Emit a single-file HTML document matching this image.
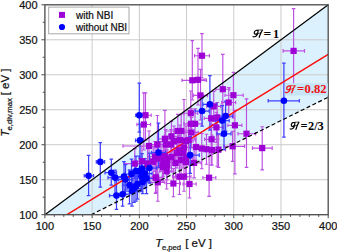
<!DOCTYPE html><html><head><meta charset="utf-8"><style>html,body{margin:0;padding:0;background:#fff;width:337px;height:252px;overflow:hidden}svg{display:block}text{font-family:"Liberation Sans",sans-serif}.tk text,text.tk{stroke:#111;stroke-width:0.22px}.ser text{font-family:"Liberation Serif",serif}</style></head><body>
<svg width="337" height="252" viewBox="0 0 337 252">
<polygon points="44.90,214.70 328.20,4.80 328.20,97.19 91.12,214.70" fill="#dbf1fd"/>
<line x1="92.12" y1="4.80" x2="92.12" y2="214.70" stroke="#cbcbcb" stroke-width="1"/>
<line x1="44.90" y1="179.72" x2="328.20" y2="179.72" stroke="#cbcbcb" stroke-width="1"/>
<line x1="139.33" y1="4.80" x2="139.33" y2="214.70" stroke="#cbcbcb" stroke-width="1"/>
<line x1="44.90" y1="144.73" x2="328.20" y2="144.73" stroke="#cbcbcb" stroke-width="1"/>
<line x1="186.55" y1="4.80" x2="186.55" y2="214.70" stroke="#cbcbcb" stroke-width="1"/>
<line x1="44.90" y1="109.75" x2="328.20" y2="109.75" stroke="#cbcbcb" stroke-width="1"/>
<line x1="233.77" y1="4.80" x2="233.77" y2="214.70" stroke="#cbcbcb" stroke-width="1"/>
<line x1="44.90" y1="74.77" x2="328.20" y2="74.77" stroke="#cbcbcb" stroke-width="1"/>
<line x1="280.98" y1="4.80" x2="280.98" y2="214.70" stroke="#cbcbcb" stroke-width="1"/>
<line x1="44.90" y1="39.78" x2="328.20" y2="39.78" stroke="#cbcbcb" stroke-width="1"/>
<path d="M283.1 50.9H304.5M293.6 8.6V89.0M283.1 49.1V52.7M304.5 49.1V52.7M291.8 8.6H295.4M291.8 89.0H295.4" stroke="#bd4fe3" stroke-width="1.15" fill="none"/><path d="M194.6 55.7H209.4M202.0 33.6V78.0M194.6 53.9V57.5M209.4 53.9V57.5M200.2 33.6H203.8M200.2 78.0H203.8" stroke="#bd4fe3" stroke-width="1.15" fill="none"/><path d="M182.0 80.3H206.5M192.3 40.6V100.0M182.0 78.5V82.1M206.5 78.5V82.1M190.5 40.6H194.1M190.5 100.0H194.1" stroke="#bd4fe3" stroke-width="1.15" fill="none"/><path d="M191.0 79.8H205.0M198.0 48.3V105.0M191.0 78.0V81.6M205.0 78.0V81.6M196.2 48.3H199.8M196.2 105.0H199.8" stroke="#bd4fe3" stroke-width="1.15" fill="none"/><path d="M193.5 95.4H207.5M200.5 69.4V120.0M193.5 93.6V97.2M207.5 93.6V97.2M198.7 69.4H202.3M198.7 120.0H202.3" stroke="#bd4fe3" stroke-width="1.15" fill="none"/><path d="M215.8 89.2H229.8M222.8 54.3V120.0M215.8 87.4V91.0M229.8 87.4V91.0M221.0 54.3H224.6M221.0 120.0H224.6" stroke="#bd4fe3" stroke-width="1.15" fill="none"/><path d="M225.0 95.2H243.2M233.4 72.4V118.0M225.0 93.4V97.0M243.2 93.4V97.0M231.6 72.4H235.2M231.6 118.0H235.2" stroke="#bd4fe3" stroke-width="1.15" fill="none"/><path d="M221.7 102.5H235.7M228.7 87.5V117.5M221.7 100.7V104.3M235.7 100.7V104.3M226.9 87.5H230.5M226.9 117.5H230.5" stroke="#bd4fe3" stroke-width="1.15" fill="none"/><path d="M140.0 115.2H151.2M145.5 92.9V140.0M140.0 113.4V117.0M151.2 113.4V117.0M143.7 92.9H147.3M143.7 140.0H147.3" stroke="#bd4fe3" stroke-width="1.15" fill="none"/><path d="M136.9 124.5H150.6M143.8 92.9V150.0M136.9 122.7V126.3M150.6 122.7V126.3M142.0 92.9H145.6M142.0 150.0H145.6" stroke="#bd4fe3" stroke-width="1.15" fill="none"/><path d="M183.8 113.2H197.8M190.8 91.0V128.2M183.8 111.4V115.0M197.8 111.4V115.0M189.0 91.0H192.6M189.0 128.2H192.6" stroke="#bd4fe3" stroke-width="1.15" fill="none"/><path d="M184.0 123.8H198.0M191.0 108.8V138.8M184.0 122.0V125.6M198.0 122.0V125.6M189.2 108.8H192.8M189.2 138.8H192.8" stroke="#bd4fe3" stroke-width="1.15" fill="none"/><path d="M188.0 123.8H202.0M195.0 108.8V138.8M188.0 122.0V125.6M202.0 122.0V125.6M193.2 108.8H196.8M193.2 138.8H196.8" stroke="#bd4fe3" stroke-width="1.15" fill="none"/><path d="M184.4 132.5H198.4M191.4 117.5V147.5M184.4 130.7V134.3M198.4 130.7V134.3M189.6 117.5H193.2M189.6 147.5H193.2" stroke="#bd4fe3" stroke-width="1.15" fill="none"/><path d="M206.7 106.4H220.7M213.7 91.4V121.4M206.7 104.6V108.2M220.7 104.6V108.2M211.9 91.4H215.5M211.9 121.4H215.5" stroke="#bd4fe3" stroke-width="1.15" fill="none"/><path d="M204.2 118.3H218.2M211.2 103.3V165.2M204.2 116.5V120.1M218.2 116.5V120.1M209.4 103.3H213.0M209.4 165.2H213.0" stroke="#bd4fe3" stroke-width="1.15" fill="none"/><path d="M210.2 117.5H224.2M217.2 102.5V166.2M210.2 115.7V119.3M224.2 115.7V119.3M215.4 102.5H219.0M215.4 166.2H219.0" stroke="#bd4fe3" stroke-width="1.15" fill="none"/><path d="M209.4 127.4H223.4M216.4 112.4V142.4M209.4 125.6V129.2M223.4 125.6V129.2M214.6 112.4H218.2M214.6 142.4H218.2" stroke="#bd4fe3" stroke-width="1.15" fill="none"/><path d="M227.9 125.3H241.9M234.9 110.3V173.9M227.9 123.5V127.1M241.9 123.5V127.1M233.1 110.3H236.7M233.1 173.9H236.7" stroke="#bd4fe3" stroke-width="1.15" fill="none"/><path d="M238.0 133.7H255.6M246.5 98.8V167.4M238.0 131.9V135.5M255.6 131.9V135.5M244.7 98.8H248.3M244.7 167.4H248.3" stroke="#bd4fe3" stroke-width="1.15" fill="none"/><path d="M204.6 139.3H218.6M211.6 124.3V154.3M204.6 137.5V141.1M218.6 137.5V141.1M209.8 124.3H213.4M209.8 154.3H213.4" stroke="#bd4fe3" stroke-width="1.15" fill="none"/><path d="M224.0 146.3H244.6M232.6 131.3V161.3M224.0 144.5V148.1M244.6 144.5V148.1M230.8 131.3H234.4M230.8 161.3H234.4" stroke="#bd4fe3" stroke-width="1.15" fill="none"/><path d="M194.8 148.5H208.8M201.8 133.5V168.7M194.8 146.7V150.3M208.8 146.7V150.3M200.0 133.5H203.6M200.0 168.7H203.6" stroke="#bd4fe3" stroke-width="1.15" fill="none"/><path d="M199.5 149.2H213.5M206.5 134.2V164.2M199.5 147.4V151.0M213.5 147.4V151.0M204.7 134.2H208.3M204.7 164.2H208.3" stroke="#bd4fe3" stroke-width="1.15" fill="none"/><path d="M205.0 150.0H219.0M212.0 135.0V165.0M205.0 148.2V151.8M219.0 148.2V151.8M210.2 135.0H213.8M210.2 165.0H213.8" stroke="#bd4fe3" stroke-width="1.15" fill="none"/><path d="M211.5 149.6H225.5M218.5 134.6V167.3M211.5 147.8V151.4M225.5 147.8V151.4M216.7 134.6H220.3M216.7 167.3H220.3" stroke="#bd4fe3" stroke-width="1.15" fill="none"/><path d="M252.5 148.1H272.2M262.2 126.7V169.9M252.5 146.3V149.9M272.2 146.3V149.9M260.4 126.7H264.0M260.4 169.9H264.0" stroke="#bd4fe3" stroke-width="1.15" fill="none"/><path d="M165.5 131.0H184.8M177.8 114.3V146.0M165.5 129.2V132.8M184.8 129.2V132.8M176.0 114.3H179.6M176.0 146.0H179.6" stroke="#bd4fe3" stroke-width="1.15" fill="none"/><path d="M174.2 131.0H188.2M181.2 114.0V146.0M174.2 129.2V132.8M188.2 129.2V132.8M179.4 114.0H183.0M179.4 146.0H183.0" stroke="#bd4fe3" stroke-width="1.15" fill="none"/><path d="M157.9 138.8H171.9M164.9 110.3V153.8M157.9 137.0V140.6M171.9 137.0V140.6M163.1 110.3H166.7M163.1 153.8H166.7" stroke="#bd4fe3" stroke-width="1.15" fill="none"/><path d="M164.4 136.3H178.4M171.4 121.3V151.3M164.4 134.5V138.1M178.4 134.5V138.1M169.6 121.3H173.2M169.6 151.3H173.2" stroke="#bd4fe3" stroke-width="1.15" fill="none"/><path d="M167.0 141.0H181.0M174.0 126.0V156.0M167.0 139.2V142.8M181.0 139.2V142.8M172.2 126.0H175.8M172.2 156.0H175.8" stroke="#bd4fe3" stroke-width="1.15" fill="none"/><path d="M173.0 140.0H187.0M180.0 125.0V155.0M173.0 138.2V141.8M187.0 138.2V141.8M178.2 125.0H181.8M178.2 155.0H181.8" stroke="#bd4fe3" stroke-width="1.15" fill="none"/><path d="M179.0 141.0H193.0M186.0 126.0V156.0M179.0 139.2V142.8M193.0 139.2V142.8M184.2 126.0H187.8M184.2 156.0H187.8" stroke="#bd4fe3" stroke-width="1.15" fill="none"/><path d="M181.5 140.0H195.5M188.5 125.0V155.0M181.5 138.2V141.8M195.5 138.2V141.8M186.7 125.0H190.3M186.7 155.0H190.3" stroke="#bd4fe3" stroke-width="1.15" fill="none"/><path d="M164.5 157.0H178.5M171.5 142.0V172.0M164.5 155.2V158.8M178.5 155.2V158.8M169.7 142.0H173.3M169.7 172.0H173.3" stroke="#bd4fe3" stroke-width="1.15" fill="none"/><path d="M179.0 158.5H193.0M186.0 143.5V173.5M179.0 156.7V160.3M193.0 156.7V160.3M184.2 143.5H187.8M184.2 173.5H187.8" stroke="#bd4fe3" stroke-width="1.15" fill="none"/><path d="M189.0 147.0H203.0M196.0 132.0V162.0M189.0 145.2V148.8M203.0 145.2V148.8M194.2 132.0H197.8M194.2 162.0H197.8" stroke="#bd4fe3" stroke-width="1.15" fill="none"/><path d="M156.0 167.0H170.0M163.0 152.0V182.0M156.0 165.2V168.8M170.0 165.2V168.8M161.2 152.0H164.8M161.2 182.0H164.8" stroke="#bd4fe3" stroke-width="1.15" fill="none"/><path d="M164.0 144.5H178.0M171.0 129.5V159.5M164.0 142.7V146.3M178.0 142.7V146.3M169.2 129.5H172.8M169.2 159.5H172.8" stroke="#bd4fe3" stroke-width="1.15" fill="none"/><path d="M172.0 150.5H186.0M179.0 135.5V165.5M172.0 148.7V152.3M186.0 148.7V152.3M177.2 135.5H180.8M177.2 165.5H180.8" stroke="#bd4fe3" stroke-width="1.15" fill="none"/><path d="M158.0 156.0H172.0M165.0 141.0V171.0M158.0 154.2V157.8M172.0 154.2V157.8M163.2 141.0H166.8M163.2 171.0H166.8" stroke="#bd4fe3" stroke-width="1.15" fill="none"/><path d="M177.0 147.5H191.0M184.0 99.5V162.5M177.0 145.7V149.3M191.0 145.7V149.3M182.2 99.5H185.8M182.2 162.5H185.8" stroke="#bd4fe3" stroke-width="1.15" fill="none"/><path d="M158.7 144.5H172.7M165.7 129.5V159.5M158.7 142.7V146.3M172.7 142.7V146.3M163.9 129.5H167.5M163.9 159.5H167.5" stroke="#bd4fe3" stroke-width="1.15" fill="none"/><path d="M170.0 153.0H184.0M177.0 138.0V168.0M170.0 151.2V154.8M184.0 151.2V154.8M175.2 138.0H178.8M175.2 168.0H178.8" stroke="#bd4fe3" stroke-width="1.15" fill="none"/><path d="M176.0 153.0H190.0M183.0 138.0V168.0M176.0 151.2V154.8M190.0 151.2V154.8M181.2 138.0H184.8M181.2 168.0H184.8" stroke="#bd4fe3" stroke-width="1.15" fill="none"/><path d="M160.0 159.5H174.0M167.0 144.5V174.5M160.0 157.7V161.3M174.0 157.7V161.3M165.2 144.5H168.8M165.2 174.5H168.8" stroke="#bd4fe3" stroke-width="1.15" fill="none"/><path d="M150.0 158.5H164.0M157.0 143.5V173.5M150.0 156.7V160.3M164.0 156.7V160.3M155.2 143.5H158.8M155.2 173.5H158.8" stroke="#bd4fe3" stroke-width="1.15" fill="none"/><path d="M154.0 156.5H168.0M161.0 141.5V171.5M154.0 154.7V158.3M168.0 154.7V158.3M159.2 141.5H162.8M159.2 171.5H162.8" stroke="#bd4fe3" stroke-width="1.15" fill="none"/><path d="M168.4 162.9H182.4M175.4 147.9V177.9M168.4 161.1V164.7M182.4 161.1V164.7M173.6 147.9H177.2M173.6 177.9H177.2" stroke="#bd4fe3" stroke-width="1.15" fill="none"/><path d="M174.0 160.0H188.0M181.0 145.0V175.0M174.0 158.2V161.8M188.0 158.2V161.8M179.2 145.0H182.8M179.2 175.0H182.8" stroke="#bd4fe3" stroke-width="1.15" fill="none"/><path d="M179.0 162.0H193.0M186.0 147.0V177.0M179.0 160.2V163.8M193.0 160.2V163.8M184.2 147.0H187.8M184.2 177.0H187.8" stroke="#bd4fe3" stroke-width="1.15" fill="none"/><path d="M187.1 162.9H201.1M194.1 147.9V177.9M187.1 161.1V164.7M201.1 161.1V164.7M192.3 147.9H195.9M192.3 177.9H195.9" stroke="#bd4fe3" stroke-width="1.15" fill="none"/><path d="M160.0 165.0H174.0M167.0 150.0V180.0M160.0 163.2V166.8M174.0 163.2V166.8M165.2 150.0H168.8M165.2 180.0H168.8" stroke="#bd4fe3" stroke-width="1.15" fill="none"/><path d="M156.3 161.2H170.3M163.3 146.2V176.2M156.3 159.4V163.0M170.3 159.4V163.0M161.5 146.2H165.1M161.5 176.2H165.1" stroke="#bd4fe3" stroke-width="1.15" fill="none"/><path d="M123.0 146.0H156.0M149.0 131.0V161.0M123.0 144.2V147.8M156.0 144.2V147.8M147.2 131.0H150.8M147.2 161.0H150.8" stroke="#bd4fe3" stroke-width="1.15" fill="none"/><path d="M150.4 144.5H164.4M157.4 115.5V159.5M150.4 142.7V146.3M164.4 142.7V146.3M155.6 115.5H159.2M155.6 159.5H159.2" stroke="#bd4fe3" stroke-width="1.15" fill="none"/><path d="M124.0 163.6H141.8M134.8 148.6V178.6M124.0 161.8V165.4M141.8 161.8V165.4M133.0 148.6H136.6M133.0 178.6H136.6" stroke="#bd4fe3" stroke-width="1.15" fill="none"/><path d="M134.9 161.2H148.9M141.9 146.2V176.2M134.9 159.4V163.0M148.9 159.4V163.0M140.1 146.2H143.7M140.1 176.2H143.7" stroke="#bd4fe3" stroke-width="1.15" fill="none"/><path d="M140.5 163.5H154.5M147.5 148.5V178.5M140.5 161.7V165.3M154.5 161.7V165.3M145.7 148.5H149.3M145.7 178.5H149.3" stroke="#bd4fe3" stroke-width="1.15" fill="none"/><path d="M146.2 161.8H160.2M153.2 146.8V176.8M146.2 160.0V163.6M160.2 160.0V163.6M151.4 146.8H155.0M151.4 176.8H155.0" stroke="#bd4fe3" stroke-width="1.15" fill="none"/><path d="M148.0 156.5H162.0M155.0 141.5V171.5M148.0 154.7V158.3M162.0 154.7V158.3M153.2 141.5H156.8M153.2 171.5H156.8" stroke="#bd4fe3" stroke-width="1.15" fill="none"/><path d="M155.4 165.5H169.4M162.4 150.5V180.5M155.4 163.7V167.3M169.4 163.7V167.3M160.6 150.5H164.2M160.6 180.5H164.2" stroke="#bd4fe3" stroke-width="1.15" fill="none"/><path d="M159.7 171.1H173.7M166.7 156.1V189.0M159.7 169.3V172.9M173.7 169.3V172.9M164.9 156.1H168.5M164.9 189.0H168.5" stroke="#bd4fe3" stroke-width="1.15" fill="none"/><path d="M149.1 177.4H163.1M156.1 162.4V192.4M149.1 175.6V179.2M163.1 175.6V179.2M154.3 162.4H157.9M154.3 192.4H157.9" stroke="#bd4fe3" stroke-width="1.15" fill="none"/><path d="M150.8 182.3H164.8M157.8 167.3V201.2M150.8 180.5V184.1M164.8 180.5V184.1M156.0 167.3H159.6M156.0 201.2H159.6" stroke="#bd4fe3" stroke-width="1.15" fill="none"/><path d="M166.4 183.5H180.4M173.4 168.5V196.7M166.4 181.7V185.3M180.4 181.7V185.3M171.6 168.5H175.2M171.6 196.7H175.2" stroke="#bd4fe3" stroke-width="1.15" fill="none"/><path d="M172.5 176.7H186.5M179.5 161.7V194.5M172.5 174.9V178.5M186.5 174.9V178.5M177.7 161.7H181.3M177.7 194.5H181.3" stroke="#bd4fe3" stroke-width="1.15" fill="none"/><path d="M177.0 176.7H191.0M184.0 161.7V191.2M177.0 174.9V178.5M191.0 174.9V178.5M182.2 161.7H185.8M182.2 191.2H185.8" stroke="#bd4fe3" stroke-width="1.15" fill="none"/><path d="M148.6 177.8H162.6M155.6 162.8V193.4M148.6 176.0V179.6M162.6 176.0V179.6M153.8 162.8H157.4M153.8 193.4H157.4" stroke="#bd4fe3" stroke-width="1.15" fill="none"/><path d="M202.9 177.7H215.8M209.1 150.0V196.4M202.9 175.9V179.5M215.8 175.9V179.5M207.3 150.0H210.9M207.3 196.4H210.9" stroke="#bd4fe3" stroke-width="1.15" fill="none"/><path d="M183.1 184.0H196.2M189.5 165.0V198.0M183.1 182.2V185.8M196.2 182.2V185.8M187.7 165.0H191.3M187.7 198.0H191.3" stroke="#bd4fe3" stroke-width="1.15" fill="none"/><path d="M268.2 100.8H299.4M283.9 63.2V137.1M268.2 99.0V102.6M299.4 99.0V102.6M282.1 63.2H285.7M282.1 137.1H285.7" stroke="#4040ff" stroke-width="1.25" fill="none"/><path d="M135.7 115.2H143.0M139.3 83.2V132.0M135.7 113.4V117.0M143.0 113.4V117.0M137.5 83.2H141.1M137.5 132.0H141.1" stroke="#4040ff" stroke-width="1.25" fill="none"/><path d="M135.5 140.4H143.5M140.0 124.0V158.0M135.5 138.6V142.2M143.5 138.6V142.2M138.2 124.0H141.8M138.2 158.0H141.8" stroke="#4040ff" stroke-width="1.25" fill="none"/><path d="M151.5 152.6H165.5M158.5 123.0V167.6M151.5 150.8V154.4M165.5 150.8V154.4M156.7 123.0H160.3M156.7 167.6H160.3" stroke="#4040ff" stroke-width="1.25" fill="none"/><path d="M181.2 155.1H199.3M190.2 136.7V173.3M181.2 153.3V156.9M199.3 153.3V156.9M188.4 136.7H192.0M188.4 173.3H192.0" stroke="#4040ff" stroke-width="1.25" fill="none"/><path d="M202.9 104.4H216.9M209.9 75.6V130.0M202.9 102.6V106.2M216.9 102.6V106.2M208.1 75.6H211.7M208.1 130.0H211.7" stroke="#4040ff" stroke-width="1.25" fill="none"/><path d="M195.1 111.0H209.1M202.1 96.0V126.0M195.1 109.2V112.8M209.1 109.2V112.8M200.3 96.0H203.9M200.3 126.0H203.9" stroke="#4040ff" stroke-width="1.25" fill="none"/><path d="M218.6 116.1H232.6M225.6 101.1V131.1M218.6 114.3V117.9M232.6 114.3V117.9M223.8 101.1H227.4M223.8 131.1H227.4" stroke="#4040ff" stroke-width="1.25" fill="none"/><path d="M215.2 120.6H229.2M222.2 105.6V135.6M215.2 118.8V122.4M229.2 118.8V122.4M220.4 105.6H224.0M220.4 135.6H224.0" stroke="#4040ff" stroke-width="1.25" fill="none"/><path d="M217.0 133.8H231.0M224.0 118.8V149.6M217.0 132.0V135.6M231.0 132.0V135.6M222.2 118.8H225.8M222.2 149.6H225.8" stroke="#4040ff" stroke-width="1.25" fill="none"/><path d="M84.2 175.8H93.6M88.6 155.3V195.7M84.2 174.0V177.6M93.6 174.0V177.6M86.8 155.3H90.4M86.8 195.7H90.4" stroke="#4040ff" stroke-width="1.25" fill="none"/><path d="M96.3 161.9H104.6M100.3 142.7V187.0M96.3 160.1V163.7M104.6 160.1V163.7M98.5 142.7H102.1M98.5 187.0H102.1" stroke="#4040ff" stroke-width="1.25" fill="none"/><path d="M105.0 172.7H116.5M111.3 159.1V185.0M105.0 170.9V174.5M116.5 170.9V174.5M109.5 159.1H113.1M109.5 185.0H113.1" stroke="#4040ff" stroke-width="1.25" fill="none"/><path d="M108.0 177.6H122.0M115.0 170.1V194.3M108.0 175.8V179.4M122.0 175.8V179.4M113.2 170.1H116.8M113.2 194.3H116.8" stroke="#4040ff" stroke-width="1.25" fill="none"/><path d="M109.5 195.6H123.5M116.5 180.6V209.4M109.5 193.8V197.4M123.5 193.8V197.4M114.7 180.6H118.3M114.7 209.4H118.3" stroke="#4040ff" stroke-width="1.25" fill="none"/><path d="M115.6 194.2H129.6M122.6 179.2V206.2M115.6 192.4V196.0M129.6 192.4V196.0M120.8 179.2H124.4M120.8 206.2H124.4" stroke="#4040ff" stroke-width="1.25" fill="none"/><path d="M118.5 179.5H132.5M125.5 164.5V194.5M118.5 177.7V181.3M132.5 177.7V181.3M123.7 164.5H127.3M123.7 194.5H127.3" stroke="#4040ff" stroke-width="1.25" fill="none"/><path d="M122.5 185.0H136.5M129.5 170.0V203.9M122.5 183.2V186.8M136.5 183.2V186.8M127.7 170.0H131.3M127.7 203.9H131.3" stroke="#4040ff" stroke-width="1.25" fill="none"/><path d="M127.0 188.5H141.0M134.0 173.5V202.4M127.0 186.7V190.3M141.0 186.7V190.3M132.2 173.5H135.8M132.2 202.4H135.8" stroke="#4040ff" stroke-width="1.25" fill="none"/><path d="M130.5 184.0H144.5M137.5 169.0V199.0M130.5 182.2V185.8M144.5 182.2V185.8M135.7 169.0H139.3M135.7 199.0H139.3" stroke="#4040ff" stroke-width="1.25" fill="none"/><path d="M124.5 174.0H138.5M131.5 159.0V189.0M124.5 172.2V175.8M138.5 172.2V175.8M129.7 159.0H133.3M129.7 189.0H133.3" stroke="#4040ff" stroke-width="1.25" fill="none"/><path d="M129.0 171.0H143.0M136.0 156.0V186.0M129.0 169.2V172.8M143.0 169.2V172.8M134.2 156.0H137.8M134.2 186.0H137.8" stroke="#4040ff" stroke-width="1.25" fill="none"/><path d="M135.0 168.5H149.0M142.0 153.5V183.5M135.0 166.7V170.3M149.0 166.7V170.3M140.2 153.5H143.8M140.2 183.5H143.8" stroke="#4040ff" stroke-width="1.25" fill="none"/><path d="M138.0 173.5H152.0M145.0 158.5V188.5M138.0 171.7V175.3M152.0 171.7V175.3M143.2 158.5H146.8M143.2 188.5H146.8" stroke="#4040ff" stroke-width="1.25" fill="none"/><path d="M142.5 168.0H156.5M149.5 153.0V183.0M142.5 166.2V169.8M156.5 166.2V169.8M147.7 153.0H151.3M147.7 183.0H151.3" stroke="#4040ff" stroke-width="1.25" fill="none"/><path d="M135.7 182.0H149.7M142.7 167.0V193.5M135.7 180.2V183.8M149.7 180.2V183.8M140.9 167.0H144.5M140.9 193.5H144.5" stroke="#4040ff" stroke-width="1.25" fill="none"/><path d="M117.0 176.5H131.0M124.0 161.5V191.5M117.0 174.7V178.3M131.0 174.7V178.3M122.2 161.5H125.8M122.2 191.5H125.8" stroke="#4040ff" stroke-width="1.25" fill="none"/><path d="M125.0 191.0H139.0M132.0 176.0V206.0M125.0 189.2V192.8M139.0 189.2V192.8M130.2 176.0H133.8M130.2 206.0H133.8" stroke="#4040ff" stroke-width="1.25" fill="none"/><path d="M139.5 178.5H153.5M146.5 163.5V193.5M139.5 176.7V180.3M153.5 176.7V180.3M144.7 163.5H148.3M144.7 193.5H148.3" stroke="#4040ff" stroke-width="1.25" fill="none"/><path d="M132.5 171.0H146.5M139.5 156.0V186.0M132.5 169.2V172.8M146.5 169.2V172.8M137.7 156.0H141.3M137.7 186.0H141.3" stroke="#4040ff" stroke-width="1.25" fill="none"/><path d="M129.0 186.0H143.0M136.0 171.0V201.0M129.0 184.2V187.8M143.0 184.2V187.8M134.2 171.0H137.8M134.2 201.0H137.8" stroke="#4040ff" stroke-width="1.25" fill="none"/><path d="M134.5 176.5H148.5M141.5 161.5V191.5M134.5 174.7V178.3M148.5 174.7V178.3M139.7 161.5H143.3M139.7 191.5H143.3" stroke="#4040ff" stroke-width="1.25" fill="none"/><line x1="67.00" y1="214.70" x2="328.20" y2="54.40" stroke="#ff0c0c" stroke-width="1.4"/><rect x="290.5" y="47.8" width="6.2" height="6.2" fill="#9d00d6"/><rect x="198.9" y="52.6" width="6.2" height="6.2" fill="#9d00d6"/><rect x="189.2" y="77.2" width="6.2" height="6.2" fill="#9d00d6"/><rect x="194.9" y="76.7" width="6.2" height="6.2" fill="#9d00d6"/><rect x="197.4" y="92.3" width="6.2" height="6.2" fill="#9d00d6"/><rect x="219.7" y="86.1" width="6.2" height="6.2" fill="#9d00d6"/><rect x="230.3" y="92.1" width="6.2" height="6.2" fill="#9d00d6"/><rect x="225.6" y="99.4" width="6.2" height="6.2" fill="#9d00d6"/><rect x="142.4" y="112.1" width="6.2" height="6.2" fill="#9d00d6"/><rect x="140.7" y="121.4" width="6.2" height="6.2" fill="#9d00d6"/><rect x="187.7" y="110.1" width="6.2" height="6.2" fill="#9d00d6"/><rect x="187.9" y="120.7" width="6.2" height="6.2" fill="#9d00d6"/><rect x="191.9" y="120.7" width="6.2" height="6.2" fill="#9d00d6"/><rect x="188.3" y="129.4" width="6.2" height="6.2" fill="#9d00d6"/><rect x="210.6" y="103.3" width="6.2" height="6.2" fill="#9d00d6"/><rect x="208.1" y="115.2" width="6.2" height="6.2" fill="#9d00d6"/><rect x="214.1" y="114.4" width="6.2" height="6.2" fill="#9d00d6"/><rect x="213.3" y="124.3" width="6.2" height="6.2" fill="#9d00d6"/><rect x="231.8" y="122.2" width="6.2" height="6.2" fill="#9d00d6"/><rect x="243.4" y="130.6" width="6.2" height="6.2" fill="#9d00d6"/><rect x="208.5" y="136.2" width="6.2" height="6.2" fill="#9d00d6"/><rect x="229.5" y="143.2" width="6.2" height="6.2" fill="#9d00d6"/><rect x="198.7" y="145.4" width="6.2" height="6.2" fill="#9d00d6"/><rect x="203.4" y="146.1" width="6.2" height="6.2" fill="#9d00d6"/><rect x="208.9" y="146.9" width="6.2" height="6.2" fill="#9d00d6"/><rect x="215.4" y="146.5" width="6.2" height="6.2" fill="#9d00d6"/><rect x="259.1" y="145.0" width="6.2" height="6.2" fill="#9d00d6"/><rect x="174.7" y="127.9" width="6.2" height="6.2" fill="#9d00d6"/><rect x="178.1" y="127.9" width="6.2" height="6.2" fill="#9d00d6"/><rect x="161.8" y="135.7" width="6.2" height="6.2" fill="#9d00d6"/><rect x="168.3" y="133.2" width="6.2" height="6.2" fill="#9d00d6"/><rect x="170.9" y="137.9" width="6.2" height="6.2" fill="#9d00d6"/><rect x="176.9" y="136.9" width="6.2" height="6.2" fill="#9d00d6"/><rect x="182.9" y="137.9" width="6.2" height="6.2" fill="#9d00d6"/><rect x="185.4" y="136.9" width="6.2" height="6.2" fill="#9d00d6"/><rect x="168.4" y="153.9" width="6.2" height="6.2" fill="#9d00d6"/><rect x="182.9" y="155.4" width="6.2" height="6.2" fill="#9d00d6"/><rect x="192.9" y="143.9" width="6.2" height="6.2" fill="#9d00d6"/><rect x="159.9" y="163.9" width="6.2" height="6.2" fill="#9d00d6"/><rect x="167.9" y="141.4" width="6.2" height="6.2" fill="#9d00d6"/><rect x="175.9" y="147.4" width="6.2" height="6.2" fill="#9d00d6"/><rect x="161.9" y="152.9" width="6.2" height="6.2" fill="#9d00d6"/><rect x="180.9" y="144.4" width="6.2" height="6.2" fill="#9d00d6"/><rect x="162.6" y="141.4" width="6.2" height="6.2" fill="#9d00d6"/><rect x="173.9" y="149.9" width="6.2" height="6.2" fill="#9d00d6"/><rect x="179.9" y="149.9" width="6.2" height="6.2" fill="#9d00d6"/><rect x="163.9" y="156.4" width="6.2" height="6.2" fill="#9d00d6"/><rect x="153.9" y="155.4" width="6.2" height="6.2" fill="#9d00d6"/><rect x="157.9" y="153.4" width="6.2" height="6.2" fill="#9d00d6"/><rect x="172.3" y="159.8" width="6.2" height="6.2" fill="#9d00d6"/><rect x="177.9" y="156.9" width="6.2" height="6.2" fill="#9d00d6"/><rect x="182.9" y="158.9" width="6.2" height="6.2" fill="#9d00d6"/><rect x="191.0" y="159.8" width="6.2" height="6.2" fill="#9d00d6"/><rect x="163.9" y="161.9" width="6.2" height="6.2" fill="#9d00d6"/><rect x="160.2" y="158.1" width="6.2" height="6.2" fill="#9d00d6"/><rect x="145.9" y="142.9" width="6.2" height="6.2" fill="#9d00d6"/><rect x="154.3" y="141.4" width="6.2" height="6.2" fill="#9d00d6"/><rect x="131.7" y="160.5" width="6.2" height="6.2" fill="#9d00d6"/><rect x="138.8" y="158.1" width="6.2" height="6.2" fill="#9d00d6"/><rect x="144.4" y="160.4" width="6.2" height="6.2" fill="#9d00d6"/><rect x="150.1" y="158.7" width="6.2" height="6.2" fill="#9d00d6"/><rect x="151.9" y="153.4" width="6.2" height="6.2" fill="#9d00d6"/><rect x="159.3" y="162.4" width="6.2" height="6.2" fill="#9d00d6"/><rect x="163.6" y="168.0" width="6.2" height="6.2" fill="#9d00d6"/><rect x="153.0" y="174.3" width="6.2" height="6.2" fill="#9d00d6"/><rect x="154.7" y="179.2" width="6.2" height="6.2" fill="#9d00d6"/><rect x="170.3" y="180.4" width="6.2" height="6.2" fill="#9d00d6"/><rect x="176.4" y="173.6" width="6.2" height="6.2" fill="#9d00d6"/><rect x="180.9" y="173.6" width="6.2" height="6.2" fill="#9d00d6"/><rect x="152.5" y="174.7" width="6.2" height="6.2" fill="#9d00d6"/><rect x="206.0" y="174.6" width="6.2" height="6.2" fill="#9d00d6"/><rect x="186.4" y="180.9" width="6.2" height="6.2" fill="#9d00d6"/><circle cx="283.9" cy="100.8" r="3.3" fill="#0000ff"/><circle cx="139.3" cy="115.2" r="3.3" fill="#0000ff"/><circle cx="140.0" cy="140.4" r="3.3" fill="#0000ff"/><circle cx="158.5" cy="152.6" r="3.3" fill="#0000ff"/><circle cx="190.2" cy="155.1" r="3.3" fill="#0000ff"/><circle cx="209.9" cy="104.4" r="3.3" fill="#0000ff"/><circle cx="202.1" cy="111.0" r="3.3" fill="#0000ff"/><circle cx="225.6" cy="116.1" r="3.3" fill="#0000ff"/><circle cx="222.2" cy="120.6" r="3.3" fill="#0000ff"/><circle cx="224.0" cy="133.8" r="3.3" fill="#0000ff"/><circle cx="88.6" cy="175.8" r="3.3" fill="#0000ff"/><circle cx="100.3" cy="161.9" r="3.3" fill="#0000ff"/><circle cx="111.3" cy="172.7" r="3.3" fill="#0000ff"/><circle cx="115.0" cy="177.6" r="3.3" fill="#0000ff"/><circle cx="116.5" cy="195.6" r="3.3" fill="#0000ff"/><circle cx="122.6" cy="194.2" r="3.3" fill="#0000ff"/><circle cx="125.5" cy="179.5" r="3.3" fill="#0000ff"/><circle cx="129.5" cy="185.0" r="3.3" fill="#0000ff"/><circle cx="134.0" cy="188.5" r="3.3" fill="#0000ff"/><circle cx="137.5" cy="184.0" r="3.3" fill="#0000ff"/><circle cx="131.5" cy="174.0" r="3.3" fill="#0000ff"/><circle cx="136.0" cy="171.0" r="3.3" fill="#0000ff"/><circle cx="142.0" cy="168.5" r="3.3" fill="#0000ff"/><circle cx="145.0" cy="173.5" r="3.3" fill="#0000ff"/><circle cx="149.5" cy="168.0" r="3.3" fill="#0000ff"/><circle cx="142.7" cy="182.0" r="3.3" fill="#0000ff"/><circle cx="124.0" cy="176.5" r="3.3" fill="#0000ff"/><circle cx="132.0" cy="191.0" r="3.3" fill="#0000ff"/><circle cx="146.5" cy="178.5" r="3.3" fill="#0000ff"/><circle cx="139.5" cy="171.0" r="3.3" fill="#0000ff"/><circle cx="136.0" cy="186.0" r="3.3" fill="#0000ff"/><circle cx="141.5" cy="176.5" r="3.3" fill="#0000ff"/>
<line x1="44.90" y1="214.70" x2="328.20" y2="4.80" stroke="#000" stroke-width="1.2"/>
<line x1="91.12" y1="214.70" x2="328.20" y2="97.19" stroke="#000" stroke-width="1.2" stroke-dasharray="4,2.5"/>
<rect x="44.90" y="4.80" width="283.30" height="209.90" fill="none" stroke="#505050" stroke-width="1.35"/>
<line x1="44.90" y1="214.70" x2="44.90" y2="218.30" stroke="#505050" stroke-width="1"/>
<line x1="54.34" y1="214.70" x2="54.34" y2="216.90" stroke="#505050" stroke-width="1"/>
<line x1="63.79" y1="214.70" x2="63.79" y2="216.90" stroke="#505050" stroke-width="1"/>
<line x1="73.23" y1="214.70" x2="73.23" y2="216.90" stroke="#505050" stroke-width="1"/>
<line x1="82.67" y1="214.70" x2="82.67" y2="216.90" stroke="#505050" stroke-width="1"/>
<line x1="92.12" y1="214.70" x2="92.12" y2="218.30" stroke="#505050" stroke-width="1"/>
<line x1="101.56" y1="214.70" x2="101.56" y2="216.90" stroke="#505050" stroke-width="1"/>
<line x1="111.00" y1="214.70" x2="111.00" y2="216.90" stroke="#505050" stroke-width="1"/>
<line x1="120.45" y1="214.70" x2="120.45" y2="216.90" stroke="#505050" stroke-width="1"/>
<line x1="129.89" y1="214.70" x2="129.89" y2="216.90" stroke="#505050" stroke-width="1"/>
<line x1="139.33" y1="214.70" x2="139.33" y2="218.30" stroke="#505050" stroke-width="1"/>
<line x1="148.78" y1="214.70" x2="148.78" y2="216.90" stroke="#505050" stroke-width="1"/>
<line x1="158.22" y1="214.70" x2="158.22" y2="216.90" stroke="#505050" stroke-width="1"/>
<line x1="167.66" y1="214.70" x2="167.66" y2="216.90" stroke="#505050" stroke-width="1"/>
<line x1="177.11" y1="214.70" x2="177.11" y2="216.90" stroke="#505050" stroke-width="1"/>
<line x1="186.55" y1="214.70" x2="186.55" y2="218.30" stroke="#505050" stroke-width="1"/>
<line x1="195.99" y1="214.70" x2="195.99" y2="216.90" stroke="#505050" stroke-width="1"/>
<line x1="205.44" y1="214.70" x2="205.44" y2="216.90" stroke="#505050" stroke-width="1"/>
<line x1="214.88" y1="214.70" x2="214.88" y2="216.90" stroke="#505050" stroke-width="1"/>
<line x1="224.32" y1="214.70" x2="224.32" y2="216.90" stroke="#505050" stroke-width="1"/>
<line x1="233.77" y1="214.70" x2="233.77" y2="218.30" stroke="#505050" stroke-width="1"/>
<line x1="243.21" y1="214.70" x2="243.21" y2="216.90" stroke="#505050" stroke-width="1"/>
<line x1="252.65" y1="214.70" x2="252.65" y2="216.90" stroke="#505050" stroke-width="1"/>
<line x1="262.10" y1="214.70" x2="262.10" y2="216.90" stroke="#505050" stroke-width="1"/>
<line x1="271.54" y1="214.70" x2="271.54" y2="216.90" stroke="#505050" stroke-width="1"/>
<line x1="280.98" y1="214.70" x2="280.98" y2="218.30" stroke="#505050" stroke-width="1"/>
<line x1="290.43" y1="214.70" x2="290.43" y2="216.90" stroke="#505050" stroke-width="1"/>
<line x1="299.87" y1="214.70" x2="299.87" y2="216.90" stroke="#505050" stroke-width="1"/>
<line x1="309.31" y1="214.70" x2="309.31" y2="216.90" stroke="#505050" stroke-width="1"/>
<line x1="318.76" y1="214.70" x2="318.76" y2="216.90" stroke="#505050" stroke-width="1"/>
<line x1="328.20" y1="214.70" x2="328.20" y2="218.30" stroke="#505050" stroke-width="1"/>
<line x1="41.40" y1="214.70" x2="44.90" y2="214.70" stroke="#505050" stroke-width="1"/>
<line x1="42.70" y1="197.21" x2="44.90" y2="197.21" stroke="#505050" stroke-width="1"/>
<line x1="41.40" y1="179.72" x2="44.90" y2="179.72" stroke="#505050" stroke-width="1"/>
<line x1="42.70" y1="162.22" x2="44.90" y2="162.22" stroke="#505050" stroke-width="1"/>
<line x1="41.40" y1="144.73" x2="44.90" y2="144.73" stroke="#505050" stroke-width="1"/>
<line x1="42.70" y1="127.24" x2="44.90" y2="127.24" stroke="#505050" stroke-width="1"/>
<line x1="41.40" y1="109.75" x2="44.90" y2="109.75" stroke="#505050" stroke-width="1"/>
<line x1="42.70" y1="92.26" x2="44.90" y2="92.26" stroke="#505050" stroke-width="1"/>
<line x1="41.40" y1="74.77" x2="44.90" y2="74.77" stroke="#505050" stroke-width="1"/>
<line x1="42.70" y1="57.28" x2="44.90" y2="57.28" stroke="#505050" stroke-width="1"/>
<line x1="41.40" y1="39.78" x2="44.90" y2="39.78" stroke="#505050" stroke-width="1"/>
<line x1="42.70" y1="22.29" x2="44.90" y2="22.29" stroke="#505050" stroke-width="1"/>
<line x1="41.40" y1="4.80" x2="44.90" y2="4.80" stroke="#505050" stroke-width="1"/>
<text class="tk" x="44.90" y="229.80" font-size="11" text-anchor="middle" fill="#111">100</text>
<text class="tk" x="37.60" y="218.60" font-size="11" text-anchor="end" fill="#111">100</text>
<text class="tk" x="92.12" y="229.80" font-size="11" text-anchor="middle" fill="#111">150</text>
<text class="tk" x="37.60" y="183.62" font-size="11" text-anchor="end" fill="#111">150</text>
<text class="tk" x="139.33" y="229.80" font-size="11" text-anchor="middle" fill="#111">200</text>
<text class="tk" x="37.60" y="148.63" font-size="11" text-anchor="end" fill="#111">200</text>
<text class="tk" x="186.55" y="229.80" font-size="11" text-anchor="middle" fill="#111">250</text>
<text class="tk" x="37.60" y="113.65" font-size="11" text-anchor="end" fill="#111">250</text>
<text class="tk" x="233.77" y="229.80" font-size="11" text-anchor="middle" fill="#111">300</text>
<text class="tk" x="37.60" y="78.67" font-size="11" text-anchor="end" fill="#111">300</text>
<text class="tk" x="280.98" y="229.80" font-size="11" text-anchor="middle" fill="#111">350</text>
<text class="tk" x="37.60" y="43.68" font-size="11" text-anchor="end" fill="#111">350</text>
<text class="tk" x="328.20" y="229.80" font-size="11" text-anchor="middle" fill="#111">400</text>
<text class="tk" x="37.60" y="8.70" font-size="11" text-anchor="end" fill="#111">400</text>
<g class="tk"><text x="155.2" y="246.8" font-size="11.7" font-style="italic" fill="#111">T</text>
<text x="161.9" y="249.6" font-size="7.7" fill="#111">e,ped</text>
<text x="185.2" y="246.8" font-size="11.5" fill="#111">[ eV ]</text></g>
<g class="tk" transform="translate(9.4,136.8) rotate(-90)"><text x="0" y="0" font-size="11.7" font-style="italic" fill="#111">T</text><text x="6.3" y="2.8" font-size="7.7" fill="#111">e,div,max</text><text x="41.5" y="0" font-size="11.5" fill="#111">[ eV ]</text></g>
<rect x="48.7" y="7.1" width="80.3" height="26.7" fill="#fff" stroke="#a0a0a0" stroke-width="0.9"/>
<rect x="59" y="11.9" width="6" height="6" fill="#9d00d6"/>
<circle cx="62" cy="27" r="3.1" fill="#0000ff"/>
<g class="tk"><text x="76" y="18.7" font-size="10" fill="#111">with NBI</text>
<text x="76" y="30.8" font-size="10" fill="#111">without NBI</text></g>
<g transform="translate(252.80,29.70) scale(1.060,1.000)" fill="none" stroke="#000" stroke-linecap="round"><path d="M5.0 1.0C4.2 0.2 1.6 0.6 1.4 2.8C1.3 4.6 2.8 5.2 4.4 3.4M5.0 0.8C4.9 3.5 3.8 6.2 2.4 6.9C1.6 7.3 0.6 7.4 0.2 7.0M8.9 0.3C9.3 0.8 8.5 1.4 8.0 2.2C7.4 3.6 6.6 5.8 6.0 7.6" stroke-width="1.17"/><path d="M4.0 0.5C5.8 0.4 7.5 0.0 8.9 0.3M4.4 4.2C5.6 3.9 6.8 3.4 7.5 3.0" stroke-width="0.70"/></g>
<g class="ser" style="font-size:12.3px;font-weight:bold" fill="#000"><text transform="translate(263.6,37.6) scale(1.1,1)">=</text><text x="273" y="37.6">1</text></g>
<rect x="284.8" y="83.2" width="43" height="12.3" fill="#c6e5f6"/>
<g transform="translate(285.20,85.40) scale(1.080,0.980)" fill="none" stroke="#f01010" stroke-linecap="round"><path d="M5.0 1.0C4.2 0.2 1.6 0.6 1.4 2.8C1.3 4.6 2.8 5.2 4.4 3.4M5.0 0.8C4.9 3.5 3.8 6.2 2.4 6.9C1.6 7.3 0.6 7.4 0.2 7.0M8.9 0.3C9.3 0.8 8.5 1.4 8.0 2.2C7.4 3.6 6.6 5.8 6.0 7.6" stroke-width="1.17"/><path d="M4.0 0.5C5.8 0.4 7.5 0.0 8.9 0.3M4.4 4.2C5.6 3.9 6.8 3.4 7.5 3.0" stroke-width="0.70"/></g>
<g class="ser" style="font-size:12.6px;font-weight:bold" fill="#f01010"><text transform="translate(297,93.1) scale(1.0,1)">=</text><text x="304.6" y="93.1">0.82</text></g>
<g transform="translate(289.90,121.90) scale(1.000,1.000)" fill="none" stroke="#000" stroke-linecap="round"><path d="M5.0 1.0C4.2 0.2 1.6 0.6 1.4 2.8C1.3 4.6 2.8 5.2 4.4 3.4M5.0 0.8C4.9 3.5 3.8 6.2 2.4 6.9C1.6 7.3 0.6 7.4 0.2 7.0M8.9 0.3C9.3 0.8 8.5 1.4 8.0 2.2C7.4 3.6 6.6 5.8 6.0 7.6" stroke-width="1.20"/><path d="M4.0 0.5C5.8 0.4 7.5 0.0 8.9 0.3M4.4 4.2C5.6 3.9 6.8 3.4 7.5 3.0" stroke-width="0.72"/></g>
<g class="ser" style="font-size:12.3px;font-weight:bold" fill="#000"><text transform="translate(300.6,129.7) scale(1.0,1)">=</text><text x="308" y="129.7">2/3</text></g>
</svg></body></html>
